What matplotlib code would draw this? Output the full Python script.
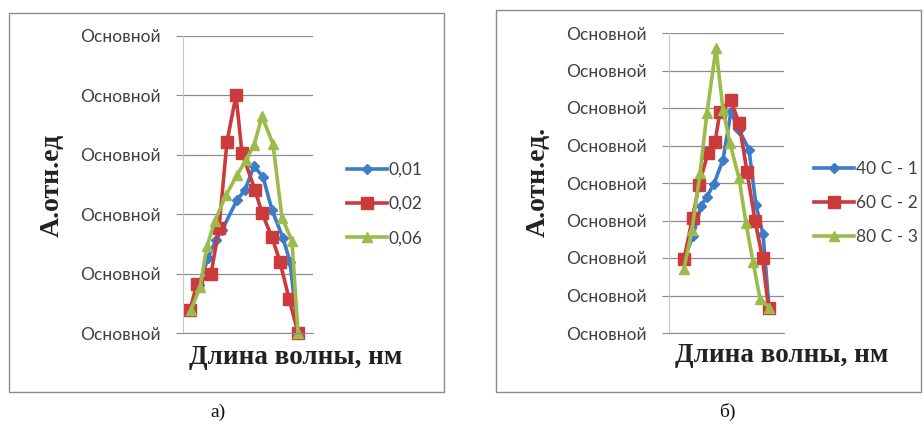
import matplotlib
matplotlib.use("Agg")
import matplotlib.pyplot as plt
from matplotlib.patches import Rectangle

W, H = 924, 425

# ---- data: chart a) ----
a_labels = ["0,01", "0,02", "0,06"]
a_x_001 = [0.7, 1.6, 2.5, 3.3, 3.9, 5.4, 6.2, 7.1, 8.0, 8.9, 10.0, 10.7, 11.5]
a_y_001 = [0.39, 0.81, 1.26, 1.57, 1.73, 2.24, 2.41, 2.81, 2.63, 2.07, 1.60, 1.20, 0.0]
a_x_002 = [0.7, 1.4, 2.8, 3.6, 4.4, 5.3, 5.9, 7.2, 7.9, 8.9, 9.7, 10.6, 11.5]
a_y_002 = [0.39, 0.83, 0.99, 1.77, 3.22, 4.0, 3.03, 2.41, 2.02, 1.61, 1.20, 0.58, 0.0]
a_x_006 = [0.8, 1.7, 2.4, 3.2, 4.3, 5.4, 6.3, 7.1, 7.9, 9.0, 9.9, 10.9, 11.5]
a_y_006 = [0.39, 0.77, 1.46, 1.89, 2.32, 2.66, 2.91, 3.16, 3.65, 3.18, 1.94, 1.55, 0.0]

# ---- data: chart б) ----
b_labels = ["40 С - 1", "60 С - 2", "80 С - 3"]
b_x_40 = [1.5, 2.4, 3.2, 3.8, 4.5, 5.4, 6.2, 7.0, 8.0, 8.7, 9.4, 10.0]
b_y_40 = [1.97, 2.59, 3.39, 3.64, 3.98, 4.62, 5.90, 5.42, 4.89, 3.41, 2.64, 0.69]
b_x_60 = [1.5, 2.35, 3.0, 3.9, 4.6, 5.1, 6.15, 7.0, 7.8, 8.6, 9.35, 9.95]
b_y_60 = [1.97, 3.07, 3.95, 4.80, 5.09, 5.90, 6.22, 5.61, 4.30, 3.00, 1.99, 0.67]
b_x_80 = [1.5, 2.3, 3.1, 3.8, 4.7, 5.4, 6.1, 7.0, 7.7, 8.4, 9.1, 10.0]
b_y_80 = [1.72, 2.75, 4.26, 5.87, 7.60, 5.95, 5.06, 4.13, 2.93, 1.90, 0.92, 0.68]

tick_text = "Основной"

BLUE = "#3d7cc9"
RED = "#cc3a3c"
GREEN = "#9bbb4a"
GRID = "#8c8c8c"
TXT = "#404040"

fig = plt.figure(figsize=(W / 100, H / 100), dpi=100)
fig.patch.set_facecolor("white")


def fx(px):
    return px / W


def fy(py):
    return 1 - py / H


def make_axes(left, top, right, bottom, nticks, xmax):
    ax = fig.add_axes([fx(left), fy(bottom), fx(right - left), (bottom - top) / H])
    ax.set_xlim(0, xmax)
    ax.set_ylim(0, nticks)
    ax.set_yticks(range(nticks + 1))
    ax.set_yticklabels([tick_text] * (nticks + 1), family="Lato", fontsize=12.5, color=TXT)
    ax.set_xticks([])
    ax.tick_params(axis="y", length=5, color=GRID, pad=11)
    ax.grid(axis="y", color=GRID, lw=0.9)
    ax.set_axisbelow(True)
    for s in ["top", "right"]:
        ax.spines[s].set_visible(False)
    ax.spines["left"].set_color("#c8c8c8")
    ax.spines["bottom"].set_color(GRID)
    ax.set_facecolor("none")
    return ax


def plot_series(ax, xs, ys, labels):
    styles = [(BLUE, "D", 5), (RED, "s", 8), (GREEN, "^", 7)]
    handles = []
    for (x, y), lab, (c, m, ms) in zip(zip(xs, ys), labels, styles):
        h, = ax.plot(x, y, color=c, marker=m, ms=ms, lw=2.6, label=lab,
                     markeredgecolor=c, clip_on=False)
        handles.append(h)
    return handles


def add_legend(handles, x, y):
    fig.legend(handles=handles, loc="center left", bbox_to_anchor=(fx(x), fy(y)),
               frameon=False, prop={"family": "Lato", "size": 12.5}, handlelength=2.3,
               handletextpad=0.1, labelspacing=1.05, labelcolor=TXT,
               borderpad=0, borderaxespad=0)


# frames
fig.add_artist(Rectangle((fx(9), fy(392)), fx(444 - 9), (392 - 13) / H,
                         transform=fig.transFigure, fill=False, ec=GRID, lw=1))
fig.add_artist(Rectangle((fx(496), fy(392)), fx(921 - 496), (392 - 10) / H,
                         transform=fig.transFigure, fill=False, ec=GRID, lw=1))

# chart a
ax1 = make_axes(183, 36, 313, 333, 5, 13.0)
h1 = plot_series(ax1, [a_x_001, a_x_002, a_x_006], [a_y_001, a_y_002, a_y_006], a_labels)
add_legend(h1, 347, 204)
fig.text(fx(52), fy(185), "А.отн.ед", rotation=90, ha="center", va="center",
         family="Liberation Serif", weight="bold", fontsize=20, color="#222222")
fig.text(fx(296), fy(357), "Длина волны, нм", ha="center", va="center",
         family="Liberation Serif", weight="bold", fontsize=19.5, color="#222222")
fig.text(fx(218), fy(412), "а)", ha="center", va="center",
         family="Liberation Serif", fontsize=14, color="#111111")

# chart б
ax2 = make_axes(669, 33, 784, 333, 8, 11.5)
h2 = plot_series(ax2, [b_x_40, b_x_60, b_x_80], [b_y_40, b_y_60, b_y_80], b_labels)
add_legend(h2, 814, 203)
fig.text(fx(538), fy(182), "А.отн.ед.", rotation=90, ha="center", va="center",
         family="Liberation Serif", weight="bold", fontsize=20, color="#222222")
fig.text(fx(782), fy(355), "Длина волны, нм", ha="center", va="center",
         family="Liberation Serif", weight="bold", fontsize=19.5, color="#222222")
fig.text(fx(727), fy(412), "б)", ha="center", va="center",
         family="Liberation Serif", fontsize=14, color="#111111")

fig.savefig("out.png", dpi=100)
